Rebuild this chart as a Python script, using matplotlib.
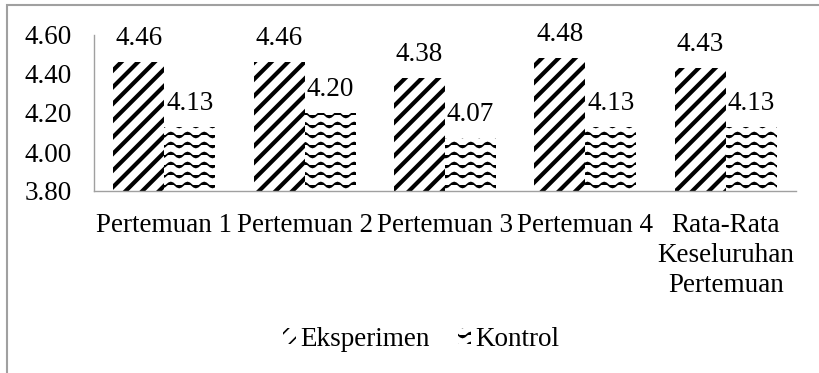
import warnings
import numpy as np
import matplotlib
matplotlib.use("Agg")
import matplotlib.pyplot as plt
import matplotlib.hatch as mhatch
from matplotlib.path import Path
from matplotlib.patches import Rectangle

warnings.filterwarnings("ignore")

# Data
kategori = ["Pertemuan 1", "Pertemuan 2", "Pertemuan 3", "Pertemuan 4",
            "Rata-Rata\nKeseluruhan\nPertemuan"]
eksperimen = [4.46, 4.46, 4.38, 4.48, 4.43]
kontrol = [4.13, 4.20, 4.07, 4.13, 4.13]
y_ticks = [3.80, 4.00, 4.20, 4.40, 4.60]


# Pola gelombang untuk batang Kontrol (hatch '~')
class WaveHatch(mhatch.HatchPatternBase):
    n_pts = 49

    def __init__(self, hatch, density):
        self.num_lines = 10 * hatch.count('~')
        self.num_vertices = self.num_lines * self.n_pts

    def set_vertices_and_codes(self, vertices, codes):
        xs = np.linspace(0, 1, self.n_pts)
        wave = 0.025 * np.sin(2 * np.pi * 6 * xs)
        for i in range(self.num_lines):
            y0 = (i + 0.5) / self.num_lines
            sl = slice(i * self.n_pts, (i + 1) * self.n_pts)
            vertices[sl, 0] = xs
            vertices[sl, 1] = y0 + wave
            codes[sl] = Path.LINETO
            codes[i * self.n_pts] = Path.MOVETO


mhatch._hatch_types.append(WaveHatch)

plt.rcParams['font.family'] = ['Liberation Serif', 'DejaVu Serif']
plt.rcParams['font.size'] = 19.5

fig = plt.figure(figsize=(8.19, 3.73), dpi=100)
ax = fig.add_axes([94 / 819, 1 - 191 / 373, (796 - 94) / 819, (191 - 35) / 373])

x = np.arange(len(kategori))
w = 0.363


def set_hlw(bars, lw):
    for b in bars:
        if hasattr(b, "set_hatch_linewidth"):
            b.set_hatch_linewidth(lw)


plt.rcParams['hatch.linewidth'] = 3.0
b1 = ax.bar(x - w / 2, eksperimen, w, color='white', edgecolor='black',
            linewidth=0, hatch='//', label='Eksperimen')
set_hlw(b1, 3.0)
plt.rcParams['hatch.linewidth'] = 1.2
b2 = ax.bar(x + w / 2, kontrol, w, color='white', edgecolor='black',
            linewidth=0, hatch='~', label='Kontrol')
set_hlw(b2, 1.2)

ax.bar_label(b1, labels=[f"{v:.2f}" for v in eksperimen], padding=8)
ax.bar_label(b2, labels=[f"{v:.2f}" for v in kontrol], padding=8)

ax.set_ylim(3.80, 4.60)
ax.set_xlim(-0.5, len(kategori) - 0.5)
ax.set_yticks(y_ticks)
ax.set_yticklabels([f"{v:.2f}" for v in y_ticks])
ax.set_xticks(x)
ax.set_xticklabels(kategori, linespacing=1.25)
ax.tick_params(axis='y', length=0, pad=16)
ax.tick_params(axis='x', length=0, pad=16)

for s in ['top', 'right']:
    ax.spines[s].set_visible(False)
for s in ['left', 'bottom']:
    ax.spines[s].set_color('#a0a0a0')
    ax.spines[s].set_linewidth(1.0)

leg = fig.legend(loc='center', bbox_to_anchor=(421 / 819, 1 - 339 / 373),
                 ncol=2, frameon=False, handlelength=0.5, handleheight=0.5,
                 handletextpad=0.15, columnspacing=1.04)

# bingkai grafik
fig.patches.append(Rectangle((7 / 819, -0.1), 1.2, 1 - 5 / 373 + 0.1,
                             transform=fig.transFigure, fill=False,
                             edgecolor='#a0a0a0', linewidth=1.5))

fig.savefig('out.png', dpi=100)
